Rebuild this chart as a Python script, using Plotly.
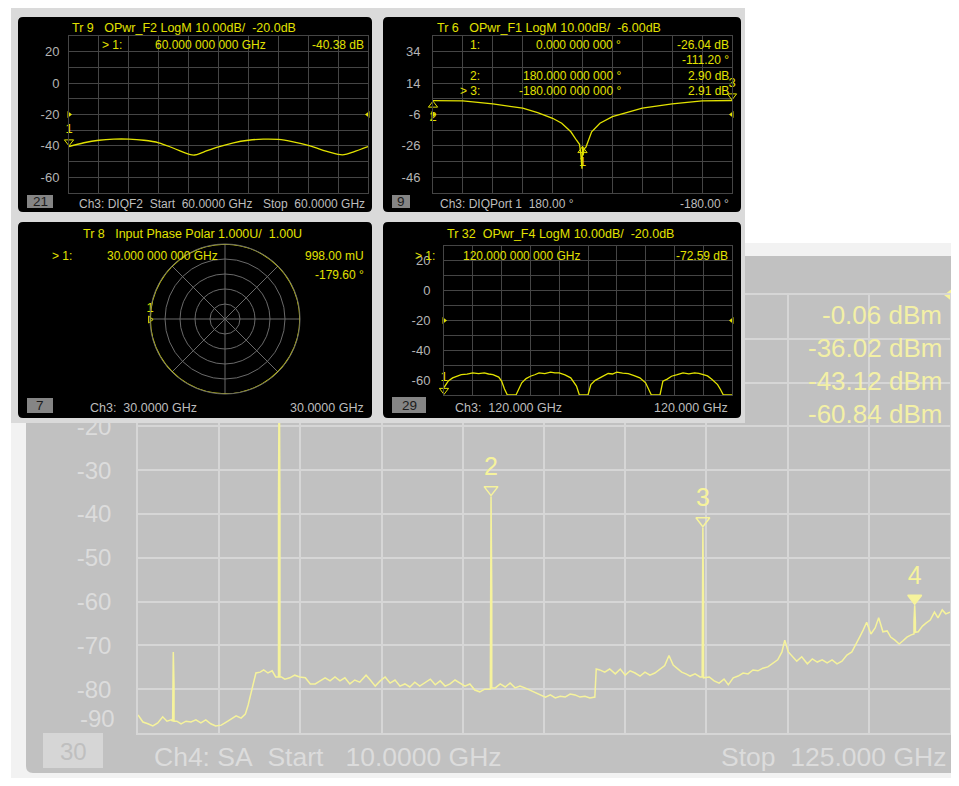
import plotly.graph_objects as go

PAGE_W, PAGE_H = 959, 786
OFF = 8                      # browser body margin
W, H = PAGE_W - OFF, PAGE_H - 2 * OFF
FONT = "Liberation Sans"

# ======================= DATA =======================
# Ch4 spectrum analyser trace (main panel)
sa_freq_ghz = [
    10.0, 10.7, 11.4, 12.1, 12.8, 13.5, 14.1, 14.7,
    14.9, 14.9, 15.0, 15.1, 15.1,
    15.5, 16.1, 16.8, 17.5, 18.2, 18.9, 19.6, 20.3, 21.0, 21.8, 22.5, 23.2, 23.9, 24.6, 25.2,
    25.6, 26.0, 26.4, 26.7, 27.3, 27.8, 28.4, 29.0, 29.5,
    29.9, 29.9, 30.0, 30.1, 30.1,
    30.3, 30.8, 31.5, 32.2, 32.9, 33.7, 34.4, 35.1, 35.8, 36.5, 37.2, 37.9, 38.6, 39.3, 40.0,
    40.7, 41.4, 42.3, 42.9, 43.6, 44.3, 45.0, 45.7, 46.4, 47.1, 47.8, 48.5, 49.2, 49.9, 50.6,
    51.4, 52.1, 52.8, 53.5, 54.2, 54.9, 55.6, 56.3, 57.0, 57.7, 58.4, 59.1,
    59.9, 59.9, 60.0, 60.1, 60.1,
    60.6, 61.3, 62.0, 62.7, 63.4, 64.1, 64.8, 65.5, 66.2, 66.9, 67.7, 68.4, 69.1, 69.8, 70.5,
    71.2, 71.9, 72.6, 73.3, 74.0, 74.7,
    74.9, 75.4, 76.1, 76.8, 77.6, 78.3, 79.0, 79.7, 80.4, 81.1, 81.8, 82.5, 83.2, 83.9, 84.6,
    85.2, 85.8, 86.4, 87.0, 87.6, 88.2, 88.9, 89.6,
    89.9, 89.9, 90.0, 90.1, 90.1,
    90.9, 91.6, 92.3, 93.0, 93.6, 94.3, 95.0, 95.7, 96.4, 97.1, 97.8, 98.5, 99.2, 99.9, 100.6,
    101.2, 101.6, 102.1, 102.6, 103.3, 104.0, 104.8, 105.5, 106.2, 106.9, 107.6, 108.3, 109.0,
    109.7, 110.4, 111.1, 111.8, 112.2, 112.7, 113.2, 113.8, 114.4, 114.9, 115.5, 116.1, 116.6,
    117.2, 117.8, 118.3, 118.9, 119.5,
    119.9, 119.9, 120.0, 120.1, 120.1,
    120.5, 121.1, 121.6, 122.2, 122.8, 123.3, 123.9, 124.4, 125.0,
]
sa_level_dbm = [
    -85.9, -87.5, -87.9, -88.4, -87.7, -86.3, -87.3, -87.0,
    -87.3, -79.0, -71.5, -79.0, -87.3,
    -87.3, -87.9, -87.3, -87.5, -87.0, -87.7, -87.0, -87.9, -88.4, -88.2, -87.5, -86.8, -86.1, -86.6, -85.7,
    -83.6, -81.1, -78.6, -76.3, -76.1, -75.6, -76.3, -75.8, -77.2,
    -77.2, -38.6, -0.06, -38.6, -77.2,
    -77.2, -77.7, -77.4, -76.8, -77.2, -77.4, -78.8, -78.8, -78.1, -77.4, -78.1, -77.2, -78.1, -77.4, -78.8,
    -77.9, -78.4, -76.8, -77.9, -79.3, -78.1, -77.2, -78.6, -77.9, -79.3, -78.8, -79.5, -78.4, -79.3, -78.6,
    -77.7, -79.0, -78.1, -79.3, -78.8, -77.9, -78.6, -79.3, -78.8, -80.2, -80.6, -80.0,
    -80.0, -58.0, -36.02, -58.0, -79.7,
    -79.7, -78.8, -79.5, -78.6, -79.7, -79.3, -79.7, -80.2, -80.6, -81.1, -81.8, -81.3, -82.0, -81.6, -81.8,
    -81.1, -81.3, -81.8, -81.6, -82.0, -81.8,
    -75.4, -75.6, -76.1, -75.4, -76.5, -75.4, -76.8, -75.8, -76.3, -77.0, -76.1, -76.8, -76.3, -75.4, -74.6,
    -72.3, -74.5, -75.3, -76.1, -76.5, -77.0, -76.5, -77.2,
    -77.2, -60.3, -43.12, -60.3, -77.4,
    -77.2, -78.1, -78.6, -77.7, -79.0, -77.4, -77.0, -76.3, -76.5, -75.6, -75.8, -75.2, -74.9, -74.0, -73.3,
    -71.5, -68.8, -71.5, -72.4, -73.6, -72.6, -74.2, -73.1, -73.8, -73.3, -74.0, -73.3, -74.2,
    -73.6, -72.2, -71.5, -69.5, -68.1, -66.5, -64.7, -67.4, -66.0, -63.7, -66.9, -66.7, -68.1,
    -68.8, -69.7, -69.0, -68.1, -67.6,
    -67.4, -64.5, -60.84, -64.5, -67.0,
    -66.9, -65.6, -64.9, -64.2, -62.4, -63.7, -61.9, -62.8, -62.4,
]
sa_marker_id = ["1", "2", "3", "4"]
sa_marker_freq_ghz = [30.0, 60.0, 90.0, 120.0]
sa_marker_level_dbm = [-0.06, -36.02, -43.12, -60.84]
sa_start_ghz, sa_stop_ghz = 10.0, 125.0
sa_y_ticks = [-90, -80, -70, -60, -50, -40, -30, -20, -10, 0, 10]
sa_ref_dbm = 10

# Tr 9 OPwr_F2 (panel 1)
p1_point = [0, 10, 20, 30, 40, 50, 60, 70, 80, 84, 90, 100, 110, 120, 130, 140, 150, 160, 170, 180, 184, 190, 200]
p1_db = [-40.4, -38.0, -36.4, -35.7, -35.7, -36.4, -38.0, -41.5, -45.2, -45.8, -43.9, -40.6, -38.0,
         -36.4, -35.7, -35.9, -37.4, -39.6, -42.8, -45.4, -45.6, -43.9, -40.4]
p1_marker_point, p1_marker_db = 0, -40.38
p1_y_ticks = [-70, -60, -50, -40, -30, -20, -10, 0, 10, 20, 30]
p1_y_labels = [-60, -40, -20, 0, 20]
p1_ref_db = -20

# Tr 6 OPwr_F1 vs phase (panel 2)
p2_phase_deg = [180, 144, 108, 72, 54, 36, 25, 14, 7.2, 3.6, 2.2, 1.2, 0.6, 0, -0.8, -1.8, -4.3,
                -11, -21, -36, -54, -72, -108, -144, -180]
p2_db = [2.90, 2.7, 0.8, -2.0, -4.8, -8.4, -11.6, -17.0, -22.4, -25.0, -30.5, -36.0, -40.5, -26.04,
         -32.0, -28.0, -26.6, -17.0, -11.6, -7.4, -4.6, -2.0, 0.8, 2.7, 2.91]
p2_marker_id = ["1", "2", "3"]
p2_marker_phase = [0.0, 180.0, -180.0]
p2_marker_db = [-26.04, 2.90, 2.91]
p2_marker1_phase_read = -111.20
p2_y_ticks = [-56, -46, -36, -26, -16, -6, 4, 14, 24, 34, 44]
p2_y_labels = [-46, -26, -6, 14, 34]
p2_ref_db = -6

# Tr 8 Input Phase Polar (panel 3)
p3_phase_deg = [-180, -150, -120, -90, -60, -30, 0, 30, 60, 90, 120, 150, 180]
p3_mag = [0.998, 0.999, 1.0, 1.0, 0.999, 1.0, 1.0, 0.999, 1.0, 1.0, 0.999, 0.998, 0.998]
p3_marker_phase, p3_marker_mag = -179.60, 0.998

# Tr 32 OPwr_F4 (panel 4)
p4_point = [0, 3, 6, 9, 12, 16, 20, 24, 28, 31, 34, 38, 40, 42, 44, 50, 52, 54, 57, 60, 63, 66, 70, 74,
            77, 80, 84, 88, 92, 94, 100, 102, 105, 108, 111, 114, 117, 120, 124, 128, 132, 136, 140, 144,
            150, 152, 155, 158, 162, 166, 170, 174, 177, 180, 183, 186, 190, 192, 194, 200]
p4_db = [-65.0, -60.5, -58.5, -57.6, -56.3, -56.0, -55.1, -55.6, -55.2, -55.9, -56.3, -58.0, -60.7, -66.0,
         -70, -70, -66.0, -61.8, -59.0, -57.4, -56.4, -55.1, -55.7, -54.6, -55.2, -55.1, -56.5, -58.5,
         -64.0, -70, -70, -63.0, -60.2, -58.5, -56.8, -55.6, -55.9, -54.7, -55.3, -55.6, -57.0, -58.5,
         -61.8, -70, -70, -60.7, -59.3, -57.4, -56.4, -55.1, -55.8, -55.1, -55.5, -56.3, -57.2, -59.5,
         -63.0, -66.3, -70, -70]
p4_marker_point, p4_marker_db = 0, -72.59
p4_y_ticks = [-70, -60, -50, -40, -30, -20, -10, 0, 10, 20, 30]
p4_y_labels = [-60, -40, -20, 0, 20]
p4_ref_db = -20

# ======================= STYLE / LAYOUT =======================
YEL = "#e2e200"
PALE = "#f6f39c"
PANEL_TXT = "#bdbdbd"
PANEL_GRID = "#454545"
MAIN_GRID = "#d6d6d6"
MAIN_TXT = "#dcdcdc"
NB = "\u00a0"


def X(x):  # page pixel -> paper fraction
    return (x - OFF) / W


def Y(y):
    return 1 - (y - OFF) / H


def sp(s):
    return s.replace(" ", NB)


def rrect(x0, y0, x1, y1, r, fx=lambda v: v, fy=lambda v: v):
    pts = [
        ("M", [(x0 + r, y0)]), ("L", [(x1 - r, y0)]), ("Q", [(x1, y0), (x1, y0 + r)]),
        ("L", [(x1, y1 - r)]), ("Q", [(x1, y1), (x1 - r, y1)]), ("L", [(x0 + r, y1)]),
        ("Q", [(x0, y1), (x0, y1 - r)]), ("L", [(x0, y0 + r)]), ("Q", [(x0, y0), (x0 + r, y0)]),
    ]
    out = ""
    for cmd, p in pts:
        out += cmd + " ".join(f"{fx(a):.5f},{fy(b):.5f}" for a, b in p) + " "
    return out + "Z"


fig = go.Figure()

# ---------- main SA panel (xy) ----------
M_L, M_R, M_T, M_B = 138, 950, 295, 733
m_px_per_db = (M_B - M_T) / (sa_y_ticks[-1] - sa_y_ticks[0])

fig.add_trace(go.Scatter(x=sa_freq_ghz, y=sa_level_dbm, mode="lines",
                         line=dict(color=PALE, width=1.5), xaxis="x", yaxis="y",
                         hoverinfo="skip", showlegend=False))
tri = 12
shift_db = (tri / 2) * 1.155 / m_px_per_db
fig.add_trace(go.Scatter(
    x=sa_marker_freq_ghz, y=[v + shift_db for v in sa_marker_level_dbm],
    mode="markers+text", text=sa_marker_id, textposition="top center",
    textfont=dict(family=FONT, size=25, color=PALE),
    marker=dict(symbol=["triangle-down-open"] * 3 + ["triangle-down"], size=tri,
                color=PALE, line=dict(color=PALE, width=1.5)),
    xaxis="x", yaxis="y", hoverinfo="skip", showlegend=False))
fig.add_trace(go.Scatter(x=[sa_stop_ghz], y=[sa_ref_dbm], mode="markers",
                         marker=dict(symbol="triangle-left", size=12, color=PALE),
                         cliponaxis=False, xaxis="x", yaxis="y", hoverinfo="skip", showlegend=False))

div = (sa_stop_ghz - sa_start_ghz) / 10
fig.update_layout(
    xaxis=dict(domain=[X(M_L), X(M_R)], range=[sa_start_ghz, sa_stop_ghz],
               tickvals=[sa_start_ghz + div * k for k in range(11)], showticklabels=False,
               showgrid=True, gridcolor=MAIN_GRID, gridwidth=1.5, zeroline=False,
               showline=True, linecolor=MAIN_GRID, linewidth=1.5, mirror=True, ticks="",
               anchor="y", fixedrange=True, automargin=False),
    yaxis=dict(domain=[Y(M_B), Y(M_T)], range=[sa_y_ticks[0], sa_y_ticks[-1]],
               tickvals=sa_y_ticks, ticktext=["" if v == -90 else str(v) for v in sa_y_ticks],
               tickfont=dict(family=FONT, size=24, color=MAIN_TXT), ticklabelstandoff=20,
               showgrid=True, gridcolor=MAIN_GRID, gridwidth=1.5, zeroline=False,
               showline=True, linecolor=MAIN_GRID, linewidth=1.5, mirror=True, ticks="",
               anchor="x", fixedrange=True, automargin=False),
)

# ---------- overlay frame subplot (x2y2) in page pixel coordinates ----------
fig.update_layout(
    xaxis2=dict(domain=[0, 1], range=[OFF, OFF + W], visible=False, anchor="y2",
                fixedrange=True, automargin=False),
    yaxis2=dict(domain=[0, 1], range=[OFF + H, OFF], visible=False, anchor="x2",
                fixedrange=True, automargin=False),
)
fig.add_trace(go.Scatter(x=[None], y=[None], xaxis="x2", yaxis="y2", mode="markers",
                         hoverinfo="skip", showlegend=False))


# ---------- cartesian black panels ----------
def panel_axes(n, xl, xr, yt, yb, xrange, xticks, yrange, yticks, ylabels, standoff):
    return {
        f"xaxis{n}": dict(domain=[X(xl), X(xr)], range=xrange, tickvals=xticks, showticklabels=False,
                          showgrid=True, gridcolor=PANEL_GRID, gridwidth=1, zeroline=False,
                          showline=True, linecolor=PANEL_GRID, mirror=True, ticks="",
                          anchor=f"y{n}", fixedrange=True, automargin=False),
        f"yaxis{n}": dict(domain=[Y(yb), Y(yt)], range=yrange, tickvals=yticks,
                          ticktext=[str(v) if v in ylabels else "" for v in yticks],
                          tickfont=dict(family=FONT, size=13, color="#b4b4b4"),
                          ticklabelstandoff=standoff,
                          showgrid=True, gridcolor=PANEL_GRID, gridwidth=1, zeroline=False,
                          showline=True, linecolor=PANEL_GRID, mirror=True, ticks="",
                          anchor=f"x{n}", fixedrange=True, automargin=False),
    }


P1 = (69, 368, 36, 193)
P2 = (433, 732, 36, 193)
P4 = (444, 732, 246, 395)
fig.update_layout(**panel_axes(3, *P1, [0, 200], list(range(0, 201, 20)),
                               [p1_y_ticks[0], p1_y_ticks[-1]], p1_y_ticks, p1_y_labels, 6))
fig.update_layout(**panel_axes(4, *P2, [180, -180], [180 - 36 * k for k in range(11)],
                               [p2_y_ticks[0], p2_y_ticks[-1]], p2_y_ticks, p2_y_labels, 9))
fig.update_layout(**panel_axes(5, *P4, [0, 200], list(range(0, 201, 20)),
                               [p4_y_ticks[0], p4_y_ticks[-1]], p4_y_ticks, p4_y_labels, 10))

psz = 8
# panel 1
p1_ppd = (P1[3] - P1[2]) / (p1_y_ticks[-1] - p1_y_ticks[0])
fig.add_trace(go.Scatter(x=p1_point, y=p1_db, mode="lines", line=dict(color=YEL, width=1.3, shape="spline"),
                         xaxis="x3", yaxis="y3", hoverinfo="skip", showlegend=False))
fig.add_trace(go.Scatter(x=[p1_marker_point], y=[p1_marker_db + psz / 2 * 1.155 / p1_ppd],
                         mode="markers+text", text=["1"], textposition="top center",
                         textfont=dict(family=FONT, size=13, color=YEL),
                         marker=dict(symbol="triangle-down-open", size=psz, color=YEL),
                         cliponaxis=False, xaxis="x3", yaxis="y3", hoverinfo="skip", showlegend=False))
fig.add_trace(go.Scatter(x=[0, 200], y=[p1_ref_db] * 2, mode="markers",
                         marker=dict(symbol=["triangle-right", "triangle-left"], size=6, color=YEL),
                         cliponaxis=False, xaxis="x3", yaxis="y3", hoverinfo="skip", showlegend=False))

# panel 2
p2_ppd = (P2[3] - P2[2]) / (p2_y_ticks[-1] - p2_y_ticks[0])
off2 = psz / 2 * 1.155 / p2_ppd
fig.add_trace(go.Scatter(x=p2_phase_deg, y=p2_db, mode="lines", line=dict(color=YEL, width=1.3),
                         xaxis="x4", yaxis="y4", hoverinfo="skip", showlegend=False))
fig.add_trace(go.Scatter(x=p2_marker_phase,
                         y=[p2_marker_db[0] - off2, p2_marker_db[1] - off2, p2_marker_db[2] + off2],
                         mode="markers+text", text=p2_marker_id,
                         textposition=["bottom center", "bottom center", "top center"],
                         textfont=dict(family=FONT, size=13, color=YEL),
                         marker=dict(symbol=["triangle-up-open", "triangle-up-open", "triangle-down-open"],
                                     size=psz, color=YEL),
                         cliponaxis=False, xaxis="x4", yaxis="y4", hoverinfo="skip", showlegend=False))
fig.add_trace(go.Scatter(x=[180, -180], y=[p2_ref_db] * 2, mode="markers",
                         marker=dict(symbol=["triangle-right", "triangle-left"], size=6, color=YEL),
                         cliponaxis=False, xaxis="x4", yaxis="y4", hoverinfo="skip", showlegend=False))

# panel 4
p4_ppd = (P4[3] - P4[2]) / (p4_y_ticks[-1] - p4_y_ticks[0])
p4_disp = max(p4_marker_db, p4_y_ticks[0])
fig.add_trace(go.Scatter(x=p4_point, y=p4_db, mode="lines", line=dict(color=YEL, width=1.3),
                         xaxis="x5", yaxis="y5", hoverinfo="skip", showlegend=False))
fig.add_trace(go.Scatter(x=[p4_marker_point], y=[p4_disp + psz / 2 * 1.155 / p4_ppd],
                         mode="markers+text", text=["1"], textposition="top center",
                         textfont=dict(family=FONT, size=13, color=YEL),
                         marker=dict(symbol="triangle-down-open", size=psz, color=YEL),
                         cliponaxis=False, xaxis="x5", yaxis="y5", hoverinfo="skip", showlegend=False))
fig.add_trace(go.Scatter(x=[0, 200], y=[p4_ref_db] * 2, mode="markers",
                         marker=dict(symbol=["triangle-right", "triangle-left"], size=6, color=YEL),
                         cliponaxis=False, xaxis="x5", yaxis="y5", hoverinfo="skip", showlegend=False))

# panel 3 (polar)
fig.add_trace(go.Scatterpolar(theta=p3_phase_deg, r=p3_mag, mode="lines",
                              line=dict(color=YEL, width=1.5, shape="spline"),
                              hoverinfo="skip", showlegend=False))
fig.add_trace(go.Scatterpolar(theta=[p3_marker_phase], r=[p3_marker_mag], mode="markers+text",
                              text=["1"], textposition="top center",
                              textfont=dict(family=FONT, size=13, color=YEL),
                              marker=dict(symbol="triangle-right-open", size=6, color=YEL),
                              hoverinfo="skip", showlegend=False))
fig.update_layout(polar=dict(
    domain=dict(x=[X(150), X(300)], y=[Y(394), Y(244)]),
    bgcolor="black",
    radialaxis=dict(range=[0, 1], tickvals=[0.2, 0.4, 0.6, 0.8, 1.0], showticklabels=False,
                    ticks="", showline=False, gridcolor="#6a6a6a", gridwidth=1),
    angularaxis=dict(tickvals=list(range(0, 360, 45)), showticklabels=False, ticks="",
                     gridcolor="#6a6a6a", linecolor="#6a6a6a", showline=True),
))

# ---------- shapes ----------
shapes = []
# paper-level (below everything)
shapes.append(dict(type="rect", xref="paper", yref="paper", x0=X(11), x1=1.02, y0=-0.02, y1=Y(243),
                   fillcolor="#f2f2f2", line=dict(width=0), layer="below"))
shapes.append(dict(type="path", xref="paper", yref="paper",
                   path=rrect(26, 256, 975, 773, 7, X, Y),
                   fillcolor="#c1c1c1", line=dict(width=0), layer="below"))
shapes.append(dict(type="rect", xref="paper", yref="paper", x0=X(43), x1=X(103), y0=Y(768), y1=Y(733),
                   fillcolor="#d6d6d6", line=dict(width=0), layer="below"))
# overlay frame (x2y2, drawn above the main panel)
shapes.append(dict(type="rect", xref="x2", yref="y2", x0=11, x1=745, y0=7, y1=423,
                   fillcolor="#dadada", line=dict(width=0), layer="below"))
for (a, b, c, d) in [(18, 17, 372, 212), (383, 17, 741, 212), (18, 222, 372, 418), (383, 222, 741, 418)]:
    shapes.append(dict(type="path", xref="x2", yref="y2", path=rrect(a, b, c, d, 5),
                       fillcolor="black", line=dict(width=0), layer="below"))
for (a, b, c, d) in [(27, 195, 53, 208), (392, 195, 410, 208), (27, 398, 53, 413), (392, 397, 426, 413)]:
    shapes.append(dict(type="rect", xref="x2", yref="y2", x0=a, x1=c, y0=b, y1=d,
                       fillcolor="#858585", line=dict(width=0), layer="below"))
fig.update_layout(shapes=shapes)

# ---------- annotations ----------
ann = []


def T(s, x, y, anchor="left", color=YEL, size=12):
    ann.append(dict(text=sp(s), x=X(x), y=Y(y), xref="paper", yref="paper", xanchor=anchor,
                    yanchor="middle", showarrow=False, font=dict(family=FONT, size=size, color=color)))


# panel 1
T("Tr 9   OPwr_F2 LogM 10.00dB/  -20.0dB", 70, 28, size=12.5)
T("> 1:", 100, 45)
T("60.000 000 000 GHz", 153, 45)
T(f"{p1_marker_db:.2f} dB", 366, 45, "right")
T("21", 40, 202, "center", "#1c1c1c", 13.5)
T("Ch3: DIQF2  Start  60.0000 GHz", 77, 204, "left", PANEL_TXT)
T("Stop  60.0000 GHz", 367, 204, "right", PANEL_TXT)
# panel 2
T("Tr 6   OPwr_F1 LogM 10.00dB/  -6.00dB", 435, 28, size=12.5)
T("1:", 482, 45, "right")
T("0.000 000 000 °", 623, 45, "right")
T(f"{p2_marker_db[0]:.2f} dB", 731, 45, "right")
T(f"{p2_marker1_phase_read:.2f} °", 731, 60, "right")
T("2:", 482, 76, "right")
T("180.000 000 000 °", 623, 76, "right")
T(f"{p2_marker_db[1]:.2f} dB", 731, 76, "right")
T("> 3:", 482, 91, "right")
T("-180.000 000 000 °", 623, 91, "right")
T(f"{p2_marker_db[2]:.2f} dB", 731, 91, "right")
T("9", 401, 202, "center", "#1c1c1c", 13.5)
T("Ch3: DIQPort 1  180.00 °", 438, 204, "left", PANEL_TXT)
T("-180.00 °", 731, 204, "right", PANEL_TXT)
# panel 3
T("Tr 8   Input Phase Polar 1.000U/  1.00U", 81, 234, size=12.5)
T("> 1:", 50, 256)
T("30.000 000 000 GHz", 105, 256)
T(f"{p3_marker_mag * 1000:.2f} mU", 366, 256, "right")
T(f"{p3_marker_phase:.2f} °", 366, 275, "right")
T("7", 40, 405, "center", "#1c1c1c", 13.5)
T("Ch3:  30.0000 GHz", 88, 408, "left", PANEL_TXT, 12.5)
T("30.0000 GHz", 366, 408, "right", PANEL_TXT, 12.5)
# panel 4
T("Tr 32  OPwr_F4 LogM 10.00dB/  -20.0dB", 445, 234, size=12.5)
T("> 1:", 413, 256)
T("120.000 000 000 GHz", 461, 256)
T(f"{p4_marker_db:.2f} dB", 730, 256, "right")
T("29", 409, 405, "center", "#1c1c1c", 13.5)
T("Ch3:  120.000 GHz", 453, 408, "left", PANEL_TXT, 12.5)
T("120.000 GHz", 730, 408, "right", PANEL_TXT, 12.5)
# main panel
for i, v in enumerate(sa_marker_level_dbm):
    T(f"{v:.2f} dBm", 944, 315 + 33 * i, "right", "#f3f0a6", 26)
T("30", 73, 751, "center", "#bfbfbf", 24)
T(f"Ch4: SA  Start   {sa_start_ghz:.4f} GHz", 152, 757, "left", MAIN_TXT, 26.5)
T(f"Stop  {sa_stop_ghz:.3f} GHz", 948, 757, "right", MAIN_TXT, 26.5)
ann.append(dict(text="-90", x=X(117), y=sa_y_ticks[0], xref="paper", yref="y", xanchor="right",
                yanchor="middle", yshift=15, showarrow=False,
                font=dict(family=FONT, size=24, color=MAIN_TXT)))
fig.update_layout(annotations=ann)

fig.update_layout(width=W, height=H, margin=dict(l=0, r=0, t=0, b=0, pad=0, autoexpand=False),
                  paper_bgcolor="white", plot_bgcolor="rgba(0,0,0,0)",
                  showlegend=False, hovermode=False, font=dict(family=FONT))

fig.write_html("out.html", config={"displayModeBar": False})
